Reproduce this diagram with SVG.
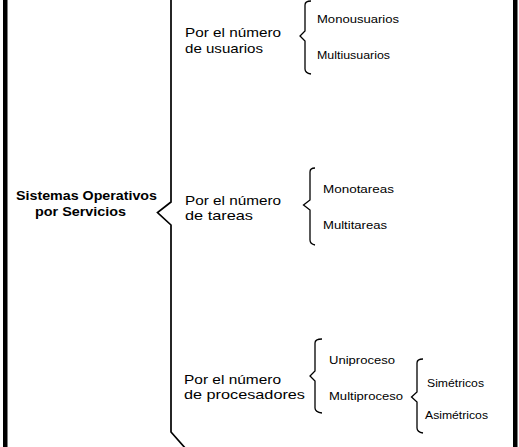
<svg xmlns="http://www.w3.org/2000/svg" width="519" height="447" viewBox="0 0 519 447">
<style>
.t{font-family:"Liberation Sans",Arial,sans-serif;fill:#000}
.h{font-size:12px;font-weight:bold}
.m{font-size:13px}
.s{font-size:10.5px}
.b{fill:none;stroke:#000;stroke-width:1.3;stroke-linejoin:miter}
.bb{fill:none;stroke:#000;stroke-width:1.7}
</style>
<rect width="519" height="447" fill="#fff"/>
<rect x="3" y="0" width="4.5" height="447" fill="#000"/>
<rect x="513" y="0" width="4.5" height="447" fill="#000"/>
<g id="connectors">
<path class="bb" d="M171,-2 L171,202 L157.5,212.5 L171,225 L171,432 L186,449"/>
<path class="b" d="M311,1 Q305,1 305,5 L305,31 L300,36 L305,41 L305,69 Q305,73 311,74"/>
<path class="b" d="M315,168 Q310,168 310,172 L310,200 L303.5,205 L310,210 L310,240 Q310,244 315,245"/>
<path class="b" d="M322,339 Q315,339 315,343 L315,371 L310,376 L315,381 L315,408 Q315,412 322,413"/>
<path class="b" d="M423,359 Q417,359 417,363 L417,392 L411.5,397 L417,402 L417,428 Q417,432 423,433"/>
</g>
<g id="root">
<text class="t h" x="16" y="200" textLength="141" lengthAdjust="spacingAndGlyphs">Sistemas Operativos</text>
<text class="t h" x="35" y="216" textLength="91" lengthAdjust="spacingAndGlyphs">por Servicios</text>
</g>
<g id="usuarios">
<text class="t m" x="185" y="37" textLength="96" lengthAdjust="spacingAndGlyphs">Por el número</text>
<text class="t m" x="185" y="52.5" textLength="78" lengthAdjust="spacingAndGlyphs">de usuarios</text>
</g>
<g id="monousuarios"><text class="t s" x="317" y="22.5" textLength="82" lengthAdjust="spacingAndGlyphs">Monousuarios</text></g>
<g id="multiusuarios"><text class="t s" x="317" y="58.5" textLength="73" lengthAdjust="spacingAndGlyphs">Multiusuarios</text></g>
<g id="tareas">
<text class="t m" x="185" y="204.5" textLength="96" lengthAdjust="spacingAndGlyphs">Por el número</text>
<text class="t m" x="185" y="220" textLength="68" lengthAdjust="spacingAndGlyphs">de tareas</text>
</g>
<g id="monotareas"><text class="t s" x="323" y="192.5" textLength="71" lengthAdjust="spacingAndGlyphs">Monotareas</text></g>
<g id="multitareas"><text class="t s" x="323" y="229" textLength="64" lengthAdjust="spacingAndGlyphs">Multitareas</text></g>
<g id="procesadores">
<text class="t m" x="184" y="383.5" textLength="97" lengthAdjust="spacingAndGlyphs">Por el número</text>
<text class="t m" x="184" y="399" textLength="121" lengthAdjust="spacingAndGlyphs">de procesadores</text>
</g>
<g id="uniproceso"><text class="t s" x="329" y="363.5" textLength="66" lengthAdjust="spacingAndGlyphs">Uniproceso</text></g>
<g id="multiproceso"><text class="t s" x="329" y="400" textLength="74" lengthAdjust="spacingAndGlyphs">Multiproceso</text></g>
<g id="simetricos"><text class="t s" x="427" y="386.5" textLength="57" lengthAdjust="spacingAndGlyphs">Simétricos</text></g>
<g id="asimetricos"><text class="t s" x="425" y="418.5" textLength="63" lengthAdjust="spacingAndGlyphs">Asimétricos</text></g>
</svg>
